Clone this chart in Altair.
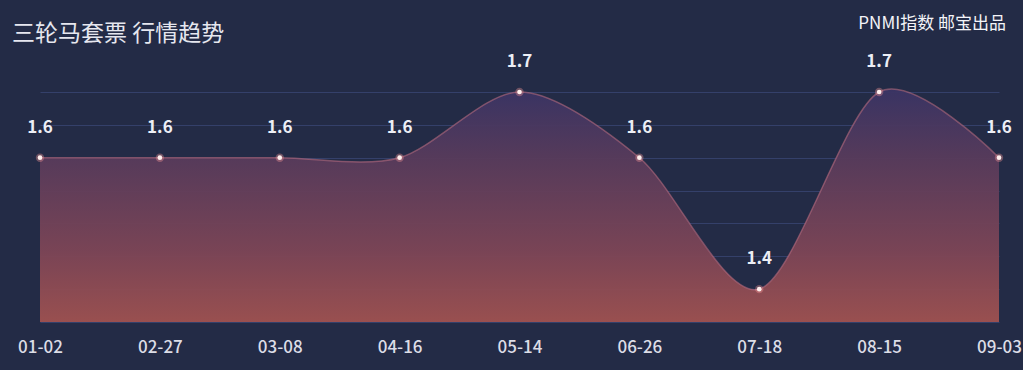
import altair as alt
import pandas as pd

dates = ["01-02", "02-27", "03-08", "04-16", "05-14", "06-26", "07-18", "08-15", "09-03"]
values = [1.6, 1.6, 1.6, 1.6, 1.7, 1.6, 1.4, 1.7, 1.6]
title_text = ["三轮马套票 行情趋势"]
brand_text = ["PNMI指数 邮宝出品"]

df = pd.DataFrame({"date": dates, "value": values})
FONT = "Noto Sans CJK SC"
BASE = 1.35

x_enc = alt.X("date:O", sort=dates, scale=alt.Scale(type="point", padding=0),
              axis=alt.Axis(title=None, labelAngle=0, labelFontSize=17, labelFontWeight=500,
                            labelColor="#dcdde6", labelFont=FONT, labelPadding=17,
                            ticks=False, domain=False, grid=False))
y_enc = alt.Y("value:Q", scale=alt.Scale(domain=[BASE, 1.7], nice=False, zero=False),
              axis=alt.Axis(title=None, labels=False, ticks=False, domain=False,
                            values=[1.35, 1.4, 1.45, 1.5, 1.55, 1.6, 1.65, 1.7],
                            grid=True, gridColor="#34406a", gridWidth=1.2))

base = alt.Chart(df)

area = base.mark_area(
    interpolate="cardinal", tension=0.12, clip=False,
    color=alt.Gradient(gradient="linear", x1=0, y1=0, x2=0, y2=1,
                       stops=[alt.GradientStop(offset=0, color="#3a3464"),
                              alt.GradientStop(offset=0.3, color="#583b5b"),
                              alt.GradientStop(offset=0.7, color="#7d4556"),
                              alt.GradientStop(offset=1, color="#9e5150")]),
    opacity=0.96,
).encode(x=x_enc, y=y_enc, y2=alt.datum(BASE))

line = base.mark_line(interpolate="cardinal", tension=0.12, clip=False,
                      color="#b56a7e", strokeWidth=1.5, opacity=0.6).encode(x=x_enc, y=y_enc)

glow = base.mark_point(filled=True, size=70, color="#ff9a9a", opacity=0.35).encode(x=x_enc, y=y_enc)
pts = base.mark_point(filled=True, size=22, color="#fff0ee", opacity=1).encode(x=x_enc, y=y_enc)

labels = base.mark_text(dy=-30, fontSize=17, fontWeight=600, color="#eceef5", font=FONT).encode(
    x=x_enc, y=y_enc, text=alt.Text("value:Q", format=".1f"))

title = alt.Chart(pd.DataFrame({"t": title_text})).mark_text(
    align="left", baseline="middle", fontSize=23, color="#e6e7ef", font=FONT
).encode(x=alt.value(-28), y=alt.value(-58), text="t:N")

brand = alt.Chart(pd.DataFrame({"t": brand_text})).mark_text(
    align="right", baseline="middle", fontSize=17, color="#f4f4f8", font=FONT
).encode(x=alt.value(966), y=alt.value(-68), text="t:N")

chart = alt.layer(area, line, glow, pts, labels, title, brand).properties(
    width=959, height=230,
    autosize=alt.AutoSizeParams(type="none"),
    padding={"left": 40, "top": 92, "right": 24, "bottom": 48},
    background="#232b46",
).configure_view(stroke=None)

chart.save("out.html", embed_options={"renderer": "svg", "actions": False})
